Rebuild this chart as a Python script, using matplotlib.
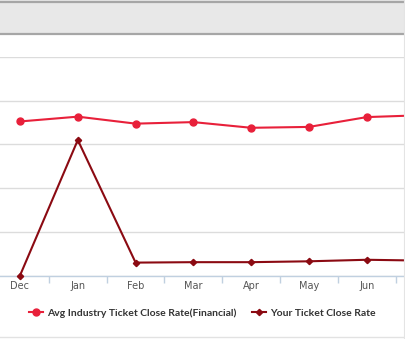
import matplotlib
matplotlib.use("Agg")
import matplotlib.pyplot as plt
from matplotlib.patches import Rectangle
from matplotlib.lines import Line2D

months = ["Dec", "Jan", "Feb", "Mar", "Apr", "May", "Jun", "Jul"]
industry_rate = [70.5, 72.7, 69.5, 70.2, 67.6, 68.0, 72.5, 73.4]
your_rate = [0.0, 62.0, 5.9, 6.1, 6.1, 6.5, 7.2, 6.8]
y_ticks = [0, 20, 40, 60, 80, 100]
series_names = ["Avg Industry Ticket Close Rate(Financial)", "Your Ticket Close Rate"]

W, H = 406, 339
fig = plt.figure(figsize=(W / 100, H / 100), dpi=100)
fig.patch.set_facecolor("white")

# header band
fig.patches.append(Rectangle((0, 1 - 35 / H), 405 / W, 35 / H, transform=fig.transFigure,
                             facecolor="#e8e8e8", edgecolor="none", zorder=0))
fig.add_artist(Line2D([0, 405 / W], [1 - 2 / H, 1 - 2 / H], transform=fig.transFigure,
                      color="#a6a6a6", lw=1.6))
fig.add_artist(Line2D([0, 405 / W], [1 - 34 / H, 1 - 34 / H], transform=fig.transFigure,
                      color="#a6a6a6", lw=1.6))
# bottom separator and right edge
fig.add_artist(Line2D([0, 1], [1 - 336.5 / H, 1 - 336.5 / H], transform=fig.transFigure,
                      color="#e2e2e2", lw=1.0))
fig.add_artist(Line2D([404 / W, 404 / W], [0, 1], transform=fig.transFigure,
                      color="#e4e4e4", lw=0.8))

# axes geometry (plot is cropped on both sides)
step = 57.8
x0 = 20 - 0.5 * step
x1 = 20 + 7.5 * step
y_top, y_bot = 57.0, 275.5
ax = fig.add_axes([x0 / W, 1 - y_bot / H, (x1 - x0) / W, (y_bot - y_top) / H])
ax.set_facecolor("none")
ax.set_xlim(-0.5, len(months) - 0.5)
ax.set_ylim(0, 100)
for s in ["top", "right", "left"]:
    ax.spines[s].set_visible(False)
ax.spines["bottom"].set_color("#c0d0e0")
ax.spines["bottom"].set_linewidth(1.0)

ax.set_yticks(y_ticks)
ax.set_yticklabels([])
ax.tick_params(axis="y", length=0)
ax.grid(axis="y", color="#dcdcdc", lw=1.0)
ax.set_axisbelow(True)

# the last category label lies outside the visible (cropped) picture
visible_labels = [m if i < 7 else "" for i, m in enumerate(months)]
ax.set_xticks(range(len(months)))
ax.set_xticklabels(visible_labels, fontsize=7, color="#555555", family="DejaVu Sans")
ax.tick_params(axis="x", length=0, pad=4)
ax.set_xticks([i + 0.5 for i in range(-1, len(months))], minor=True)
ax.tick_params(axis="x", which="minor", length=5, color="#c0d0e0", width=1)

x = list(range(len(months)))
l1, = ax.plot(x, industry_rate, color="#e8203a", lw=1.5, marker="o", markersize=5.0,
              label=series_names[0], clip_on=False, zorder=3)
l2, = ax.plot(x, your_rate, color="#8b0a12", lw=1.5, marker="D", markersize=3.2,
              label=series_names[1], clip_on=False, zorder=4)

fig.legend(handles=[l1, l2], loc="center", bbox_to_anchor=(202.5 / W, 1 - 313 / H),
           ncol=2, frameon=False, handlelength=1.3, handletextpad=0.4, columnspacing=1.5,
           prop={"family": "Lato", "weight": "bold", "size": 7.5}, labelcolor="#333333")

fig.savefig("out.png", dpi=100)
